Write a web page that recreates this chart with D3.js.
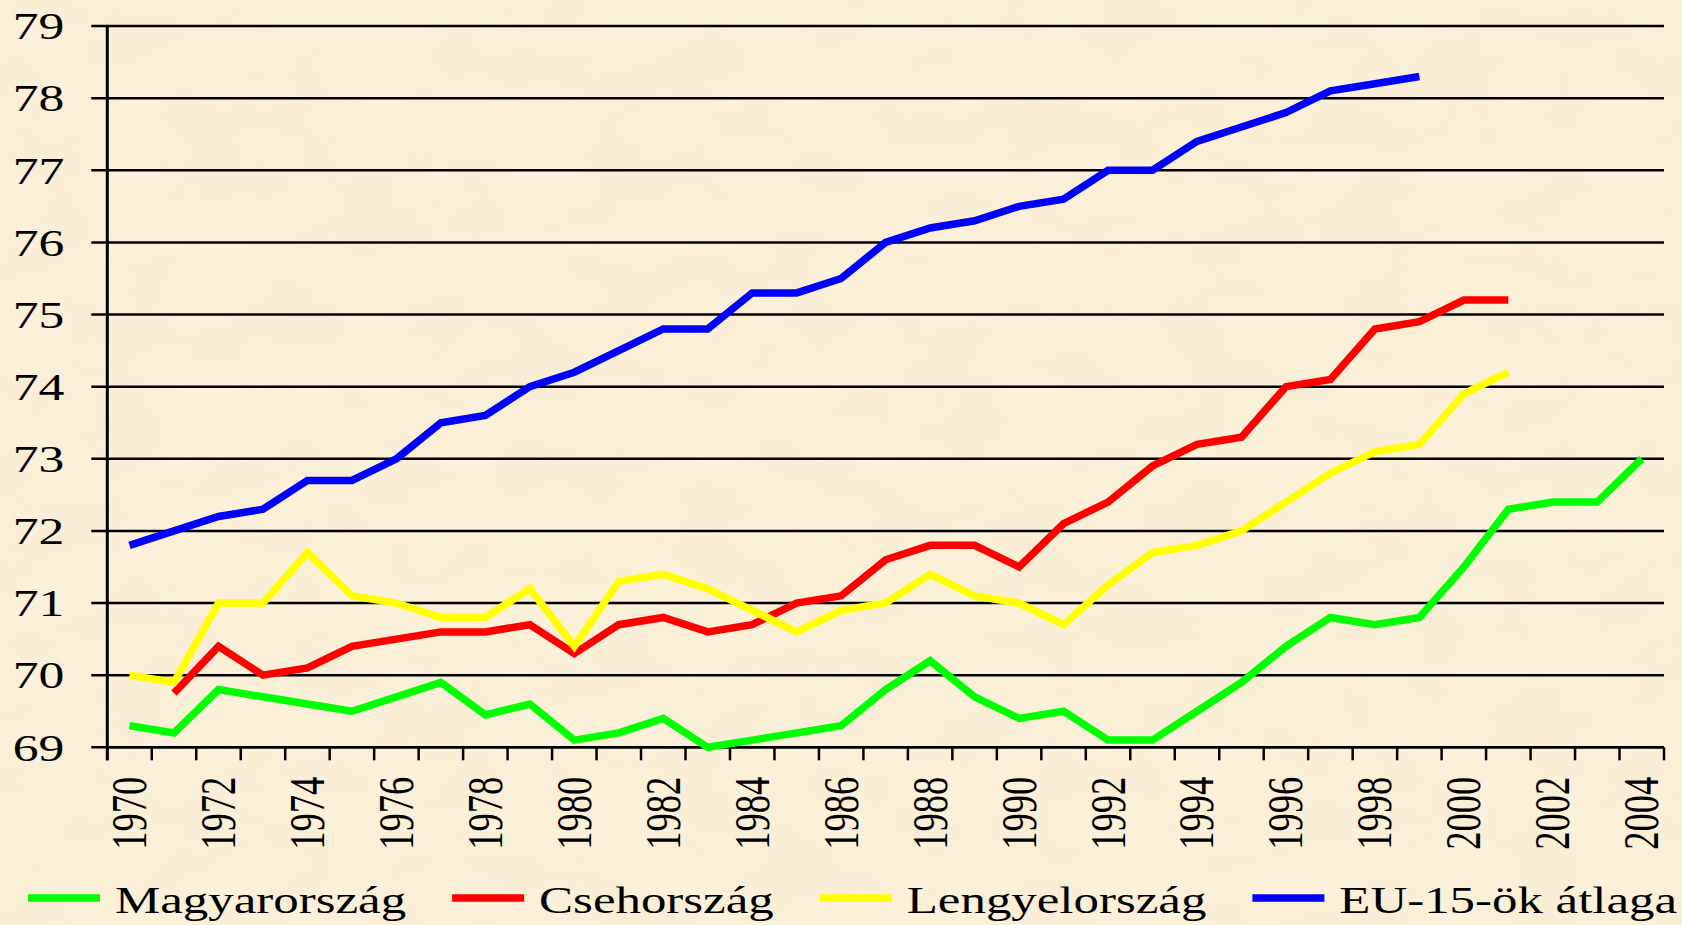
<!DOCTYPE html>
<html>
<head>
<meta charset="utf-8">
<script src="https://cdn.jsdelivr.net/npm/d3@7/dist/d3.min.js"></script>
<style>
  html, body { margin: 0; padding: 0; background: #fbf0d8; }
  svg { display: block; }
  text { font-family: "Liberation Serif", "Times New Roman", serif; fill: #000; }
</style>
</head>
<body>
<svg id="chart" width="1682" height="925"></svg>
<script>
// Years on the category axis
const years = [1970, 1971, 1972, 1973, 1974, 1975, 1976, 1977, 1978, 1979,
               1980, 1981, 1982, 1983, 1984, 1985, 1986, 1987, 1988, 1989,
               1990, 1991, 1992, 1993, 1994, 1995, 1996, 1997, 1998, 1999,
               2000, 2001, 2002, 2003, 2004];
const xTickLabels = [1970, 1972, 1974, 1976, 1978, 1980, 1982, 1984, 1986, 1988,
                     1990, 1992, 1994, 1996, 1998, 2000, 2002, 2004];
const yTickValues = [69, 70, 71, 72, 73, 74, 75, 76, 77, 78, 79];

// Life expectancy at birth (years), one value per year from 1970; null = no data
const magyarorszag = [69.3, 69.2, 69.8, 69.7, 69.6, 69.5, 69.7, 69.9, 69.45, 69.6,
                      69.1, 69.2, 69.4, 69.0, 69.1, 69.2, 69.3, 69.8, 70.2, 69.7,
                      69.4, 69.5, 69.1, 69.1, 69.5, 69.9, 70.4, 70.8, 70.7, 70.8,
                      71.5, 72.3, 72.4, 72.4, 73.0];
const csehorszag = [null, 69.75, 70.4, 70.0, 70.1, 70.4, 70.5, 70.6, 70.6, 70.7,
                    70.3, 70.7, 70.8, 70.6, 70.7, 71.0, 71.1, 71.6, 71.8, 71.8,
                    71.5, 72.1, 72.4, 72.9, 73.2, 73.3, 74.0, 74.1, 74.8, 74.9,
                    75.2, 75.2];
const lengyelorszag = [70.0, 69.9, 71.0, 71.0, 71.7, 71.1, 71.0, 70.8, 70.8, 71.2,
                       70.4, 71.3, 71.4, 71.2, 70.9, 70.6, 70.9, 71.0, 71.4, 71.1,
                       71.0, 70.7, 71.25, 71.7, 71.8, 72.0, 72.4, 72.8, 73.1, 73.2,
                       73.9, 74.2];
const eu15 = [71.8, 72.0, 72.2, 72.3, 72.7, 72.7, 73.0, 73.5, 73.6, 74.0,
              74.2, 74.5, 74.8, 74.8, 75.3, 75.3, 75.5, 76.0, 76.2, 76.3,
              76.5, 76.6, 77.0, 77.0, 77.4, 77.6, 77.8, 78.1, 78.2, 78.3];

const seriesNames = ["Magyarország", "Csehország", "Lengyelország", "EU-15-ök átlaga"];
const seriesColors = ["#00ff00", "#ff0000", "#ffff00", "#0000ff"];
const seriesValues = [magyarorszag, csehorszag, lengyelorszag, eu15];

const svg = d3.select("#chart");
const W = 1682, H = 925;
const plot = { left: 107.3, right: 1664, top: 26, bottom: 747.3 };
const stretch = 1.36;        // axis lettering is set wide
const legendStretch = 1.34;

// Paper-like background
const defs = svg.append("defs");
const paper = defs.append("filter").attr("id", "paper")
  .attr("x", 0).attr("y", 0).attr("width", 1).attr("height", 1);
paper.append("feTurbulence").attr("type", "fractalNoise")
  .attr("baseFrequency", "0.012 0.02").attr("numOctaves", 3).attr("seed", 7);
paper.append("feColorMatrix").attr("type", "matrix")
  .attr("values", "0 0 0 0 0.86  0 0 0 0 0.78  0 0 0 0 0.58  0 0 0 0.5 -0.18");
svg.append("rect").attr("width", W).attr("height", H).attr("fill", "#fbf0d8");
svg.append("rect").attr("width", W).attr("height", H).attr("filter", "url(#paper)");

const x = d3.scaleBand().domain(years).range([plot.left, plot.right]).padding(0);
const y = d3.scaleLinear().domain([69, 79]).range([plot.bottom, plot.top]);
const cx = yr => x(yr) + x.bandwidth() / 2;

// Horizontal gridlines, each reaching out past the axis as a tick
svg.append("g").selectAll("line").data(yTickValues).join("line")
  .attr("x1", plot.left - 16).attr("x2", plot.right)
  .attr("y1", d => y(d)).attr("y2", d => y(d))
  .attr("stroke", "#000").attr("stroke-width", 2.5);

// Y axis labels
const yAxis = d3.axisLeft(y).tickValues(yTickValues).tickSize(0).tickFormat(d3.format("d"));
const gy = svg.append("g").attr("transform", `translate(${plot.left},0)`).call(yAxis);
gy.select(".domain").remove();
gy.selectAll(".tick text")
  .attr("x", null).attr("dy", null)
  .attr("font-size", 38)
  .attr("text-anchor", "end")
  .attr("transform", `translate(-43,12.8) scale(${stretch},1)`);

// Vertical axis line
svg.append("line")
  .attr("x1", plot.left).attr("x2", plot.left)
  .attr("y1", plot.top).attr("y2", plot.bottom + 13)
  .attr("stroke", "#000").attr("stroke-width", 3);

// X axis: baseline, boundary ticks and rotated year labels
svg.append("line")
  .attr("x1", plot.left).attr("x2", plot.right)
  .attr("y1", plot.bottom).attr("y2", plot.bottom)
  .attr("stroke", "#000").attr("stroke-width", 2.5);
const boundaries = years.map(yr => x(yr)).concat([plot.right]);
svg.append("g").selectAll("line").data(boundaries).join("line")
  .attr("x1", d => d).attr("x2", d => d)
  .attr("y1", plot.bottom).attr("y2", plot.bottom + 13)
  .attr("stroke", "#000").attr("stroke-width", 2.5);

const xAxis = d3.axisBottom(x).tickValues(xTickLabels).tickSize(0);
const gx = svg.append("g").attr("transform", `translate(0,${plot.bottom})`).call(xAxis);
gx.select(".domain").remove();
gx.selectAll(".tick text")
  .attr("x", null).attr("y", null).attr("dy", null)
  .attr("font-size", 36.5)
  .attr("text-anchor", "end")
  .attr("transform", `translate(16.5,29.5) scale(${stretch},1) rotate(-90)`);

// Series lines
const line = d3.line()
  .defined(d => d.v !== null)
  .x(d => cx(d.year))
  .y(d => y(d.v));

svg.append("g").selectAll("path")
  .data(seriesValues.map((vals, i) => ({
    color: seriesColors[i],
    pts: vals.map((v, j) => ({ year: years[j], v: v }))
  })))
  .join("path")
  .attr("d", d => line(d.pts))
  .attr("fill", "none")
  .attr("stroke", d => d.color)
  .attr("stroke-width", 7.5)
  .attr("stroke-linejoin", "miter")
  .attr("stroke-linecap", "butt");

// Legend
const legend = svg.append("g");
const legendY = 898, sampleW = 72, gapText = 15, itemGap = 46;
let lx = 28;
seriesNames.forEach((name, i) => {
  const g = legend.append("g");
  g.append("line")
    .attr("x1", lx).attr("x2", lx + sampleW)
    .attr("y1", legendY).attr("y2", legendY)
    .attr("stroke", seriesColors[i]).attr("stroke-width", 7.5);
  const t = g.append("text")
    .attr("font-size", 38)
    .attr("transform", `translate(${lx + sampleW + gapText},${legendY + 15}) scale(${legendStretch},1)`)
    .text(name);
  const w = t.node().getComputedTextLength() * legendStretch;
  lx += sampleW + gapText + w + itemGap;
});
</script>
</body>
</html>
